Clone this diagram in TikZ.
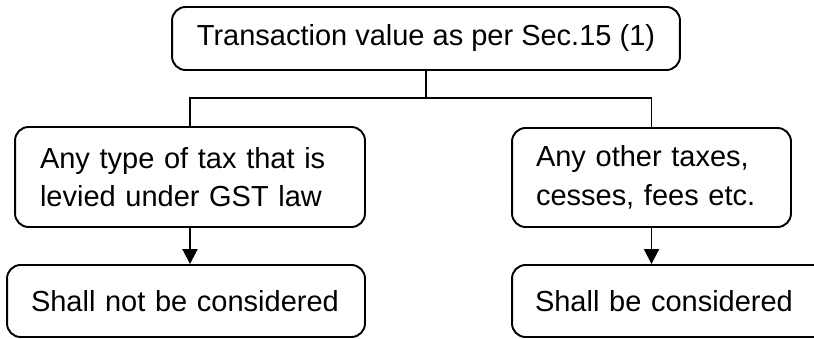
\documentclass[tikz,border=0pt]{standalone}
\usepackage{fontspec}
\setmainfont{Liberation Sans}
\usetikzlibrary{arrows.meta}
\tikzset{
    box/.style={
        draw, rounded corners=0.27cm, line width=1.1pt, inner ysep=0pt,
        align=left, font=\fontsize{16.5}{22}\selectfont
    },
    link/.style={line width=1.1pt},
    down arrow/.style={
        line width=1.1pt, % same weight as the boxes
        -{Triangle[length=0.3cm, width=0.3cm]}
    }
}

\begin{document}
\begin{tikzpicture}[x=0.02cm, y=-0.02cm]
\clip (0,0) rectangle (814,338);
\node[box, align=center, minimum width=10.16cm, minimum height=1.26cm] (TV) at (426,38.5) {Transaction value as per Sec.15 (1)};
\node[box, inner xsep=0.5cm, text width=6cm, minimum height=2cm] (GST) at (190,177) {Any type of tax that is\\levied under GST law};
\node[box, inner xsep=0.48cm, text width=4.62cm, minimum height=1.98cm] (OT) at (651.5,177.5) {Any other taxes,\\cesses, fees etc.};
\node[box, inner xsep=0.48cm, text width=6.2cm, minimum height=1.44cm] (NC) at (186,301) {Shall not be considered\\[-6pt]};
\node[box, inner xsep=0.46cm, text width=5.64cm, minimum height=1.44cm] (SC) at (676,301) {Shall be considered\\[-6pt]};
\coordinate (split) at (426,98);
\draw[link] (TV.south) -- (split);
\draw[link] (split) -| (GST.north);
\draw[link] (split) -| (OT.north);
\draw[down arrow] (GST.south) -- (GST.south |- NC.north);
\draw[down arrow] (OT.south) -- (OT.south |- SC.north);
\end{tikzpicture}
\end{document}
